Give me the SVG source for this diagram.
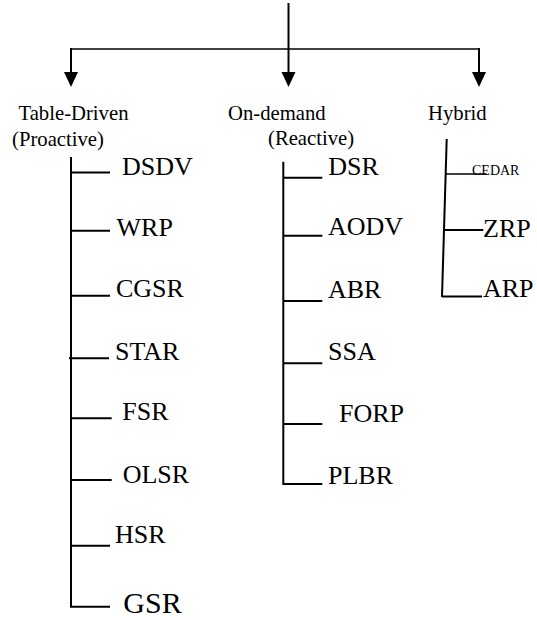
<svg xmlns="http://www.w3.org/2000/svg" width="537" height="620" viewBox="0 0 537 620">
<style>
  text { font-family: "Times New Roman", "Liberation Serif", Tinos, Times, "DejaVu Serif", serif; fill: #000; }
  .cat { font-size: 20.7px; }
  .lbl { font-size: 26px; }
  .big { font-size: 30px; }
  .small { font-size: 14px; }
  .ln { stroke: #000; stroke-width: 2; fill: none; }
  .thin { stroke: #000; stroke-width: 1.5; fill: none; }
  .head { fill: #000; }
</style>
<rect width="537" height="620" fill="#fff"/>
<g id="connectors">
  <line class="ln" x1="288.5" y1="3" x2="288.5" y2="74"/>
  <line class="thin" x1="70.5" y1="49" x2="479.5" y2="49"/>
  <line class="ln" x1="71" y1="48" x2="71" y2="74"/>
  <line class="ln" x1="479" y1="48" x2="479" y2="74"/>
  <polygon class="head" points="64,72 78,72 71,87"/>
  <polygon class="head" points="281.5,72 295.5,72 288.5,87"/>
  <polygon class="head" points="472,72 486,72 479,87"/>
  <line class="ln" x1="71" y1="157" x2="71" y2="607"/>
  <line class="ln" x1="71" y1="172.5" x2="110" y2="172.5"/>
  <line class="ln" x1="71" y1="230.7" x2="110" y2="230.7"/>
  <line class="ln" x1="71" y1="295.7" x2="110" y2="295.7"/>
  <line class="ln" x1="69" y1="358.3" x2="109" y2="358.3"/>
  <line class="ln" x1="71" y1="418.3" x2="111.7" y2="418.3"/>
  <line class="ln" x1="71" y1="480" x2="111.7" y2="480"/>
  <line class="ln" x1="71" y1="545.7" x2="110" y2="545.7"/>
  <line class="ln" x1="70" y1="606.7" x2="110" y2="606.7"/>
  <line class="ln" x1="283.3" y1="161.7" x2="283.3" y2="485"/>
  <line class="ln" x1="283.3" y1="177.7" x2="322.3" y2="177.7"/>
  <line class="ln" x1="283.3" y1="235.7" x2="322.3" y2="235.7"/>
  <line class="ln" x1="283.3" y1="301" x2="322.3" y2="301"/>
  <line class="ln" x1="283.3" y1="363.3" x2="322.3" y2="363.3"/>
  <line class="ln" x1="283.3" y1="424" x2="322.3" y2="424"/>
  <line class="ln" x1="283.3" y1="484" x2="322.3" y2="484"/>
  <line class="ln" x1="446.7" y1="139" x2="442" y2="297"/>
  <line class="thin" x1="446" y1="174" x2="486.7" y2="174"/>
  <line class="ln" x1="444.5" y1="230" x2="483.3" y2="230"/>
  <line class="ln" x1="442" y1="296.5" x2="482" y2="296.5"/>
</g>
<g id="cat-table"><text class="cat" x="18.5" y="120">Table-Driven</text><text class="cat" x="12" y="146">(Proactive)</text></g>
<g id="cat-ondemand"><text class="cat" x="228" y="120">On-demand</text><text class="cat" x="268" y="145">(Reactive)</text></g>
<g id="cat-hybrid"><text class="cat" x="428" y="120">Hybrid</text></g>
<g id="n-dsdv"><text class="lbl" x="122" y="175">DSDV</text></g>
<g id="n-wrp"><text class="lbl" x="116.5" y="236">WRP</text></g>
<g id="n-cgsr"><text class="lbl" x="116" y="297">CGSR</text></g>
<g id="n-star"><text class="lbl" x="115" y="359.5">STAR</text></g>
<g id="n-fsr"><text class="lbl" x="122.3" y="420">FSR</text></g>
<g id="n-olsr"><text class="lbl" x="122.7" y="482.5">OLSR</text></g>
<g id="n-hsr"><text class="lbl" x="115" y="543">HSR</text></g>
<g id="n-gsr"><text class="big" x="123.3" y="613">GSR</text></g>
<g id="n-dsr"><text class="lbl" x="328.3" y="175">DSR</text></g>
<g id="n-aodv"><text class="lbl" x="328" y="235">AODV</text></g>
<g id="n-abr"><text class="lbl" x="328" y="298">ABR</text></g>
<g id="n-ssa"><text class="lbl" x="328" y="360">SSA</text></g>
<g id="n-forp"><text class="lbl" x="339" y="422">FORP</text></g>
<g id="n-plbr"><text class="lbl" x="328" y="484">PLBR</text></g>
<g id="n-cedar"><text class="small" x="472" y="175">CEDAR</text></g>
<g id="n-zrp"><text class="lbl" x="483" y="236.5">ZRP</text></g>
<g id="n-arp"><text class="lbl" x="483" y="297">ARP</text></g>
</svg>
